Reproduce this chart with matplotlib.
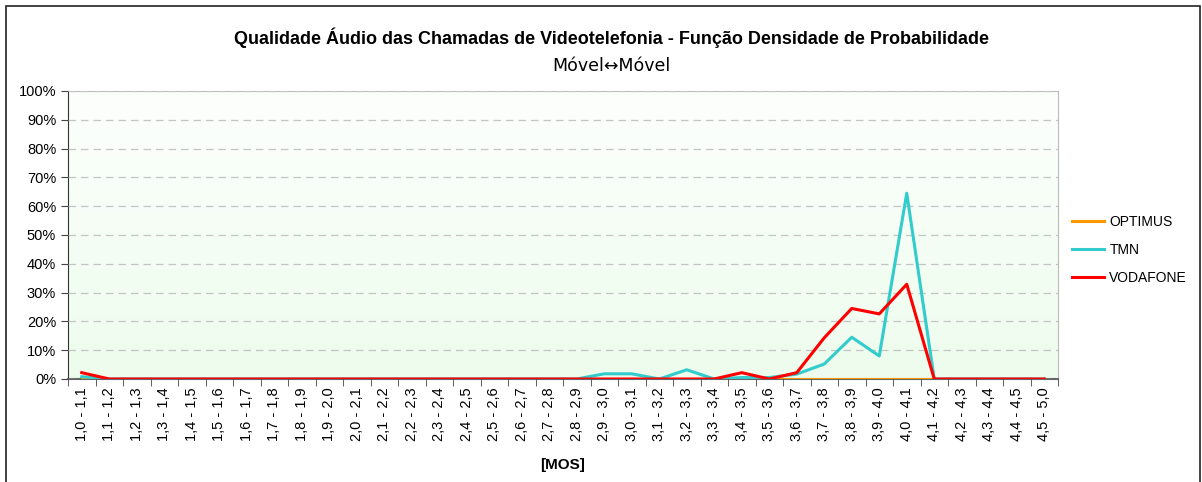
import numpy as np
import matplotlib.pyplot as plt
from matplotlib.patches import Rectangle

plt.rcParams['font.family'] = ['Liberation Sans Narrow', 'Liberation Sans', 'DejaVu Sans']

# categorias MOS
lo = [1.0 + 0.1 * i for i in range(35)] + [4.5]
hi = [1.1 + 0.1 * i for i in range(35)] + [5.0]
categorias = [f"{a:.1f} - {b:.1f}".replace('.', ',') for a, b in zip(lo, hi)]

optimus = [0.0] * 36
tmn = [0.8, 0, 0, 0, 0, 0, 0, 0, 0, 0,
       0, 0, 0, 0, 0, 0, 0, 0, 0, 1.8,
       1.8, 0, 3.2, 0, 0.5, 0.5, 1.7, 5.2, 14.5, 8.0,
       64.5, 0, 0, 0, 0, 0]
vodafone = [2.2, 0, 0, 0, 0, 0, 0, 0, 0, 0,
            0, 0, 0, 0, 0, 0, 0, 0, 0, 0,
            0, 0, 0, 0, 2.2, 0, 2.2, 14.3, 24.5, 22.6,
            32.9, 0, 0, 0, 0, 0]

fig = plt.figure(figsize=(12.02, 4.82), dpi=100)
ax = fig.add_axes([68 / 1202, 1 - 379 / 482, 990 / 1202, 288 / 482])

# moldura da figura
fig.patches.append(Rectangle((6 / 1202, -0.1), 1194 / 1202, 1.1 - 6 / 482,
                             transform=fig.transFigure, fill=False,
                             edgecolor='#222222', linewidth=1.2))

x = np.arange(len(categorias))
ax.set_xlim(-0.5, len(categorias) - 0.5)
ax.set_ylim(0, 100)

# fundo em gradiente
grad = np.linspace(0, 1, 100).reshape(-1, 1)
c_top = np.array([0.99, 1.0, 0.99])
c_bot = np.array([0.93, 0.99, 0.93])
img = c_bot + (c_top - c_bot) * grad
ax.imshow(img[:, None, :].repeat(2, axis=1), extent=[-0.5, len(categorias) - 0.5, 0, 100],
          origin='lower', aspect='auto', zorder=0)

ax.plot(x, optimus, color='#FF9900', lw=2.2, label='OPTIMUS', zorder=3)
ax.plot(x, tmn, color='#33CCCC', lw=2.2, label='TMN', zorder=4)
ax.plot(x, vodafone, color='#FF0000', lw=2.2, label='VODAFONE', zorder=5)

ax.set_yticks(np.arange(0, 101, 10))
ax.set_yticklabels([f"{v}%" for v in range(0, 101, 10)], fontsize=10.5)
ax.yaxis.grid(True, color='#C4C4C4', linestyle=(0, (6, 4)), lw=0.9)
ax.set_axisbelow(False)

ax.set_xticks(x)
ax.set_xticklabels(categorias, rotation=90, fontsize=10.5)
ax.set_xticks(np.arange(-0.5, len(categorias), 1), minor=True)
ax.tick_params(axis='x', which='major', length=0, pad=6)
ax.tick_params(axis='x', which='minor', length=5, color='#444444')
ax.tick_params(axis='y', length=5, color='#444444')

for s in ['top', 'right']:
    ax.spines[s].set_color('#BBBBBB')
ax.spines['left'].set_color('#333333')
ax.spines['bottom'].set_color('#666666')
ax.spines['bottom'].set_linewidth(1.5)

ax.set_xlabel('[MOS]', fontsize=11, fontweight='bold', labelpad=12)

fig.text(611 / 1202, 1 - 38 / 482, 'Qualidade Áudio das Chamadas de Videotelefonia - Função Densidade de Probabilidade',
         ha='center', va='center', fontsize=13, fontweight='bold')
fig.text(611 / 1202, 1 - 66 / 482, 'Móvel\u2194Móvel', ha='center', va='center', fontsize=12.5,
         family=['Liberation Sans Narrow', 'DejaVu Sans'])

ax.legend(loc='center left', bbox_to_anchor=(1.0, 0.448), frameon=False, fontsize=10,
          handlelength=2.3, handletextpad=0.4, labelspacing=1.0, borderaxespad=0.6)

fig.savefig('out.png', dpi=100)
